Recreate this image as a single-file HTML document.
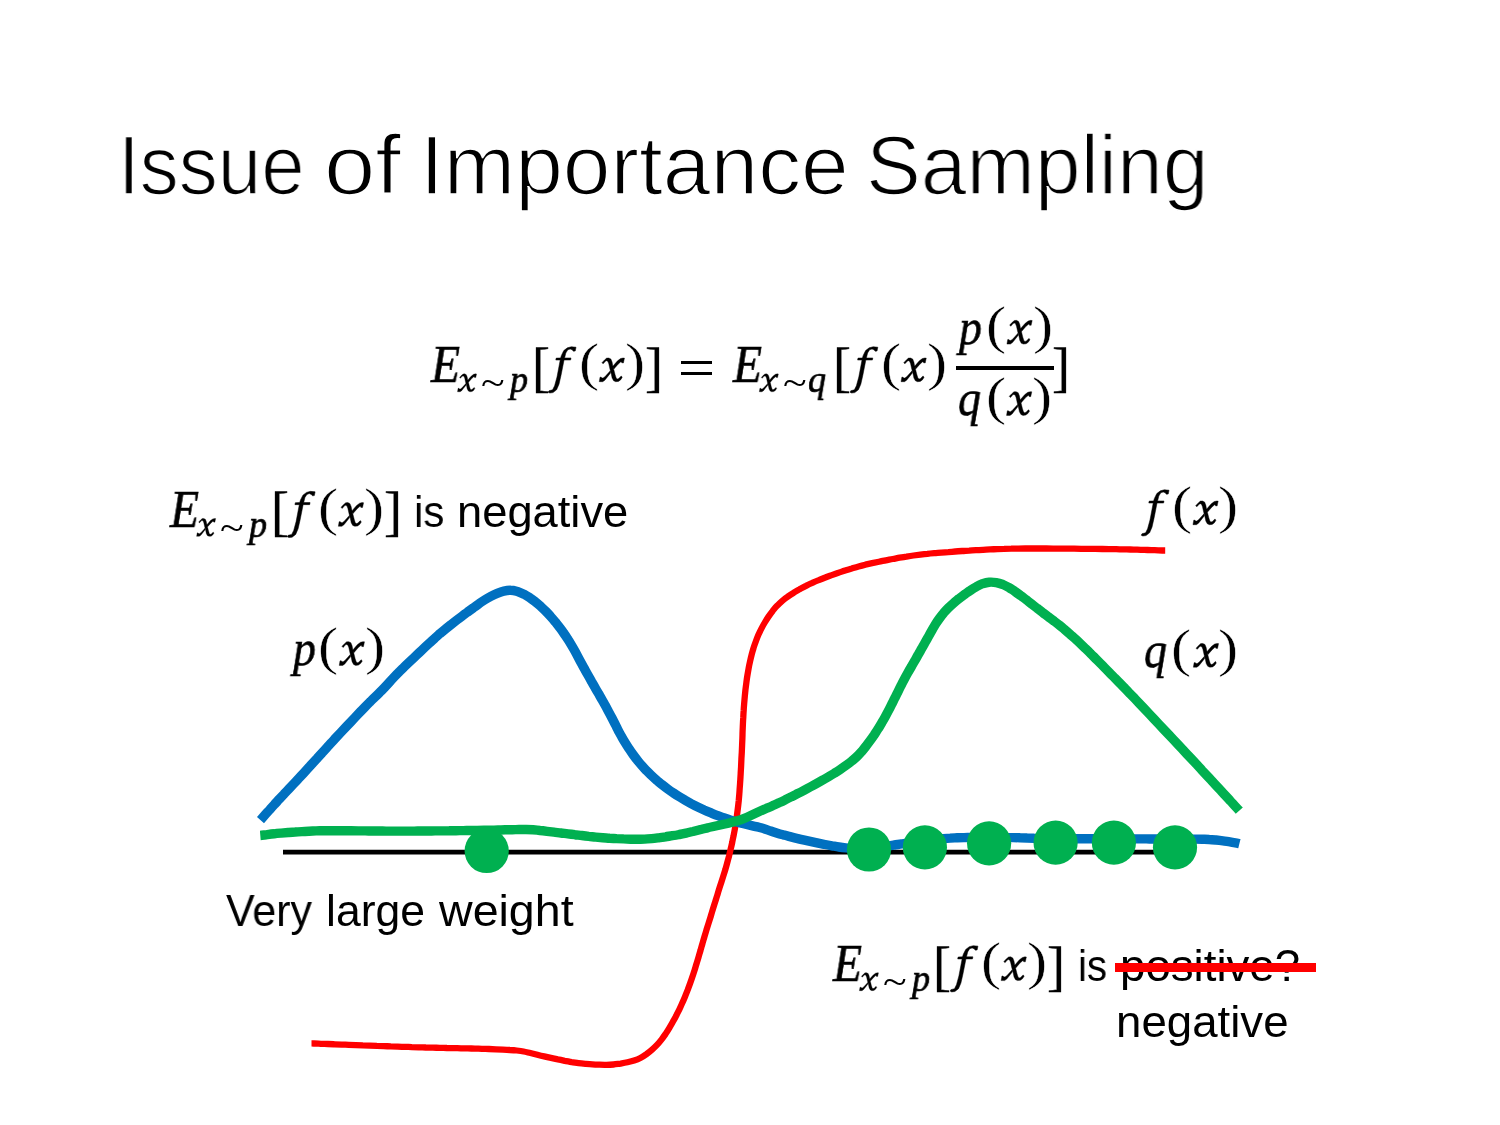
<!DOCTYPE html>
<html><head><meta charset="utf-8"><title>Issue of Importance Sampling</title>
<style>
html,body{margin:0;padding:0;background:#fff;}
#slide{position:relative;width:1500px;height:1125px;overflow:hidden;background:#fff;color:#000;font-family:"Liberation Sans",sans-serif;}
.g{position:absolute;line-height:1;white-space:pre;transform-origin:0 0;will-change:transform;font-family:"Liberation Serif",serif;}
.t{position:absolute;line-height:1;white-space:pre;font-family:"Liberation Sans",sans-serif;transform-origin:0 0;will-change:transform;}
.hr{position:absolute;background:#000;}
.E{font-size:52.5px;font-style:italic;transform:scaleX(0.905);-webkit-text-stroke:0.6px #000;}
.li{font-size:51px;font-style:italic;transform:scaleX(0.9);-webkit-text-stroke:0.6px #000;}
.pa{font-size:52px;transform:scaleX(1.16);-webkit-text-stroke:0.4px #fff;}
.br{font-size:54px;transform:scaleX(1.0);-webkit-text-stroke:0.3px #000;}
.sp{font-size:38px;font-style:italic;transform:scaleX(0.95);-webkit-text-stroke:0.7px #000;}
.st{font-size:38px;transform:scaleX(1.15);-webkit-text-stroke:0.0px #000;}
</style></head><body>
<div id="slide">
<svg width="1500" height="1125" viewBox="0 0 1500 1125" style="position:absolute;left:0;top:0" fill="none">
<defs><path id="fg" d="M27.84,-34.76 L23.20,-35.24 L19.20,-34.20 L15.60,-31.40 L13.20,-26.60 L12.40,-24.04 L8.00,-23.88 L7.60,-21.96 L12.00,-21.96 L8.80,-5.00 L6.40,3.80 L4.40,7.80 L0.80,8.76 L0.00,10.20 L1.60,11.00 L4.80,10.60 L8.40,7.80 L10.80,2.20 L12.80,-6.60 L15.84,-21.96 L22.40,-21.96 L22.80,-24.04 L16.40,-24.04 L17.60,-29.00 L19.60,-32.20 L22.00,-33.00 L24.00,-32.20 L25.20,-30.76 L27.04,-31.00Z" fill="#000" stroke="#000" stroke-width="0.5" stroke-linejoin="round"/><path id="xg" d="M2.87,-19.35 L5.44,-22.07 L7.56,-23.88 L9.67,-24.03 L11.79,-22.97 L13.00,-19.95 L13.75,-16.02 L14.81,-12.09 L16.02,-7.26 L17.08,-3.93 L18.14,-3.02 L19.65,-3.48 L21.77,-5.74 L22.37,-5.89 L23.13,-4.53 L21.46,-2.12 L19.35,-0.60 L16.63,-0.30 L14.51,-1.21 L13.00,-3.93 L11.94,-9.07 L10.88,-12.70 L9.67,-18.14 L8.77,-20.56 L7.56,-21.31 L6.35,-20.86 L4.84,-19.04 L3.93,-18.14Z M13.75,-15.72 L16.02,-18.44 L18.44,-21.16 L21.46,-23.43 L23.88,-24.03 L25.39,-23.88 L24.33,-19.04 L22.67,-19.20 L22.37,-20.10 L21.77,-20.25 L19.04,-17.84 L14.81,-13.00Z M11.19,-11.19 L8.46,-8.16 L5.74,-5.14 L3.93,-3.93 L2.87,-4.08 L1.96,-4.99 L0.91,-4.84 L0.15,-0.30 L3.63,-0.30 L5.74,-1.81 L8.16,-4.84 L11.49,-9.07Z" fill="#000" stroke="#000" stroke-width="0.4" stroke-linejoin="round"/></defs>
<line x1="283" y1="852.2" x2="1180" y2="852.2" stroke="#000" stroke-width="4.8"/>
<path d="M1165.2,550.5 C1164.0,550.5 1160.5,550.4 1158.2,550.3 C1155.9,550.2 1153.5,550.2 1151.2,550.1 C1148.9,550.0 1146.5,550.0 1144.2,549.9 C1141.9,549.8 1139.5,549.8 1137.2,549.7 C1134.9,549.6 1132.5,549.6 1130.2,549.5 C1127.9,549.5 1125.5,549.4 1123.2,549.4 C1120.9,549.3 1118.5,549.3 1116.2,549.2 C1113.9,549.2 1111.5,549.2 1109.2,549.1 C1106.9,549.1 1104.5,549.1 1102.2,549.0 C1099.9,549.0 1097.6,549.0 1095.2,548.9 C1092.9,548.9 1090.6,548.9 1088.2,548.9 C1085.9,548.9 1083.6,548.8 1081.2,548.8 C1078.9,548.8 1076.5,548.8 1074.2,548.7 C1071.9,548.7 1069.5,548.7 1067.2,548.7 C1064.9,548.7 1062.5,548.6 1060.2,548.6 C1057.9,548.6 1055.5,548.6 1053.2,548.6 C1050.9,548.6 1048.5,548.6 1046.2,548.5 C1043.9,548.5 1041.5,548.5 1039.2,548.5 C1036.9,548.5 1034.5,548.5 1032.2,548.5 C1029.9,548.5 1027.6,548.5 1025.2,548.5 C1022.9,548.5 1020.6,548.5 1018.2,548.6 C1015.9,548.6 1013.6,548.6 1011.2,548.7 C1008.9,548.7 1006.5,548.8 1004.2,548.9 C1001.9,548.9 999.5,549.0 997.2,549.1 C994.9,549.2 992.5,549.3 990.2,549.4 C987.9,549.5 985.5,549.6 983.2,549.8 C980.9,549.9 978.5,550.0 976.2,550.2 C973.9,550.3 971.5,550.4 969.2,550.6 C966.9,550.7 964.5,550.9 962.2,551.0 C959.9,551.2 957.6,551.4 955.2,551.5 C952.9,551.7 950.6,551.9 948.3,552.1 C945.9,552.2 943.6,552.4 941.3,552.6 C939.0,552.8 936.7,552.9 934.3,553.1 C932.0,553.3 929.7,553.5 927.4,553.8 C925.1,554.0 922.7,554.3 920.4,554.6 C918.1,554.9 915.8,555.2 913.5,555.5 C911.2,555.8 908.8,556.2 906.5,556.6 C904.2,556.9 901.9,557.3 899.6,557.7 C897.3,558.1 895.0,558.6 892.7,559.0 C890.4,559.4 888.1,559.9 885.8,560.3 C883.5,560.8 881.2,561.2 879.0,561.7 C876.7,562.2 874.4,562.7 872.1,563.2 C869.9,563.7 867.6,564.2 865.3,564.7 C863.1,565.3 860.8,565.9 858.6,566.5 C856.3,567.1 854.1,567.8 851.8,568.5 C849.6,569.1 847.3,569.8 845.1,570.5 C842.9,571.3 840.7,572.0 838.4,572.8 C836.2,573.5 834.0,574.3 831.8,575.1 C829.6,575.9 827.5,576.6 825.3,577.5 C823.1,578.3 820.9,579.2 818.8,580.1 C816.6,580.9 814.4,581.9 812.3,582.9 C810.2,583.8 808.1,584.8 806.0,585.9 C803.9,586.9 801.9,588.0 799.8,589.1 C797.8,590.3 795.7,591.4 793.8,592.7 C791.8,593.9 789.7,595.2 787.8,596.6 C785.9,597.9 784.1,599.3 782.3,600.8 C780.6,602.3 778.9,603.9 777.3,605.6 C775.7,607.2 774.2,609.1 772.7,610.9 C771.2,612.7 769.8,614.7 768.5,616.6 C767.2,618.5 766.0,620.5 764.8,622.5 C763.6,624.5 762.5,626.5 761.4,628.6 C760.3,630.7 759.3,632.8 758.3,635.0 C757.4,637.1 756.6,639.3 755.8,641.5 C755.0,643.6 754.2,645.8 753.5,648.1 C752.9,650.3 752.2,652.6 751.6,654.8 C751.0,657.1 750.5,659.4 750.0,661.7 C749.5,663.9 749.0,666.2 748.6,668.5 C748.2,670.8 747.8,673.1 747.4,675.4 C747.0,677.7 746.7,680.0 746.4,682.3 C746.1,684.7 745.8,687.0 745.5,689.3 C745.3,691.6 745.0,693.9 744.8,696.3 C744.6,698.6 744.4,700.9 744.2,703.2 C744.0,705.6 743.8,707.9 743.7,710.2 C743.5,712.5 743.4,714.9 743.3,717.2 C743.1,719.5 743.0,721.9 742.9,724.2 C742.8,726.5 742.7,728.9 742.6,731.2 C742.5,733.5 742.5,735.9 742.4,738.2 C742.3,740.5 742.2,742.8 742.1,745.2 C742.0,747.5 741.9,749.8 741.8,752.2 C741.7,754.5 741.5,756.8 741.4,759.2 C741.3,761.5 741.2,763.8 741.1,766.2 C741.0,768.5 740.8,770.8 740.7,773.1 C740.6,775.5 740.4,777.8 740.3,780.1 C740.1,782.5 740.0,784.8 739.8,787.1 C739.6,789.4 739.5,791.8 739.3,794.1 C739.1,796.4 738.9,798.7 738.7,801.1 C738.4,803.4 738.2,805.7 737.9,808.0 C737.6,810.3 737.3,812.7 737.0,815.0 C736.7,817.3 736.4,819.6 736.0,821.9 C735.6,824.2 735.3,826.5 734.9,828.8 C734.5,831.1 734.0,833.4 733.6,835.7 C733.1,838.0 732.6,840.3 732.2,842.5 C731.7,844.8 731.2,847.1 730.6,849.4 C730.1,851.6 729.5,853.9 729.0,856.2 C728.4,858.4 727.8,860.7 727.2,862.9 C726.6,865.2 725.9,867.4 725.3,869.7 C724.6,871.9 723.9,874.1 723.2,876.4 C722.5,878.6 721.8,880.8 721.1,883.0 C720.3,885.3 719.6,887.5 718.9,889.7 C718.2,891.9 717.6,894.2 716.9,896.4 C716.2,898.6 715.5,900.9 714.8,903.1 C714.1,905.3 713.4,907.5 712.7,909.8 C712.0,912.0 711.4,914.2 710.7,916.5 C710.0,918.7 709.3,920.9 708.6,923.1 C707.9,925.4 707.2,927.6 706.5,929.8 C705.9,932.1 705.2,934.3 704.5,936.5 C703.8,938.8 703.2,941.0 702.5,943.3 C701.9,945.5 701.2,947.8 700.6,950.0 C699.9,952.3 699.3,954.5 698.6,956.8 C698.0,959.0 697.3,961.2 696.6,963.5 C695.9,965.7 695.3,967.9 694.6,970.2 C693.9,972.4 693.1,974.6 692.4,976.8 C691.7,979.0 690.9,981.2 690.1,983.4 C689.3,985.6 688.5,987.8 687.7,989.9 C686.8,992.1 686.0,994.3 685.1,996.4 C684.2,998.6 683.3,1000.8 682.3,1002.9 C681.4,1005.1 680.4,1007.2 679.4,1009.3 C678.4,1011.4 677.3,1013.5 676.3,1015.6 C675.2,1017.6 674.1,1019.7 672.9,1021.7 C671.8,1023.7 670.6,1025.8 669.4,1027.8 C668.2,1029.8 666.9,1031.9 665.6,1033.9 C664.3,1035.8 662.9,1037.8 661.5,1039.6 C660.0,1041.5 658.6,1043.2 657.0,1044.9 C655.4,1046.6 653.8,1048.1 652.1,1049.6 C650.3,1051.2 648.4,1052.7 646.5,1054.1 C644.5,1055.5 642.5,1056.9 640.4,1058.0 C638.3,1059.1 636.2,1059.9 634.1,1060.6 C631.9,1061.3 629.7,1061.8 627.5,1062.3 C625.2,1062.8 622.9,1063.2 620.6,1063.6 C618.2,1063.9 615.8,1064.3 613.5,1064.5 C611.1,1064.7 608.8,1064.8 606.4,1064.8 C604.1,1064.9 601.8,1064.8 599.4,1064.7 C597.1,1064.6 594.8,1064.5 592.4,1064.3 C590.1,1064.2 587.8,1064.0 585.4,1063.8 C583.1,1063.6 580.8,1063.4 578.5,1063.1 C576.2,1062.8 573.9,1062.4 571.6,1062.1 C569.3,1061.7 567.0,1061.2 564.7,1060.8 C562.4,1060.3 560.1,1059.8 557.8,1059.4 C555.5,1058.9 553.2,1058.4 550.9,1057.9 C548.7,1057.5 546.4,1057.0 544.1,1056.4 C541.8,1055.9 539.5,1055.3 537.3,1054.7 C535.0,1054.1 532.7,1053.5 530.4,1053.0 C528.1,1052.5 525.9,1051.9 523.6,1051.5 C521.3,1051.1 519.0,1050.8 516.7,1050.5 C514.4,1050.2 512.1,1050.1 509.8,1050.0 C507.5,1049.8 505.2,1049.7 502.9,1049.6 C500.5,1049.5 498.2,1049.4 495.9,1049.3 C493.6,1049.2 491.3,1049.1 488.9,1049.0 C486.6,1048.9 484.3,1048.9 481.9,1048.8 C479.6,1048.7 477.3,1048.7 474.9,1048.6 C472.6,1048.5 470.3,1048.5 467.9,1048.4 C465.6,1048.4 463.3,1048.3 460.9,1048.3 C458.6,1048.2 456.2,1048.2 453.9,1048.1 C451.6,1048.1 449.2,1048.0 446.9,1048.0 C444.5,1047.9 442.2,1047.9 439.8,1047.8 C437.5,1047.8 435.2,1047.7 432.8,1047.7 C430.5,1047.6 428.1,1047.5 425.8,1047.5 C423.5,1047.4 421.1,1047.4 418.8,1047.3 C416.5,1047.2 414.1,1047.1 411.8,1047.1 C409.5,1047.0 407.1,1046.9 404.8,1046.8 C402.5,1046.8 400.1,1046.7 397.8,1046.6 C395.5,1046.5 393.1,1046.4 390.8,1046.4 C388.5,1046.3 386.1,1046.2 383.8,1046.1 C381.5,1046.0 379.2,1045.9 376.8,1045.9 C374.5,1045.8 372.2,1045.7 369.8,1045.6 C367.5,1045.5 365.2,1045.4 362.8,1045.4 C360.5,1045.3 358.2,1045.2 355.8,1045.1 C353.5,1045.0 351.2,1044.9 348.8,1044.8 C346.5,1044.7 344.2,1044.7 341.8,1044.6 C339.5,1044.5 337.2,1044.4 334.8,1044.3 C332.5,1044.2 330.2,1044.1 327.9,1044.0 C325.5,1043.9 323.2,1043.9 320.9,1043.8 C318.5,1043.7 315.4,1043.6 313.9,1043.5 C312.3,1043.4 311.9,1043.4 311.5,1043.4" stroke="#FF0000" stroke-width="6.3"/>
<path d="M260.5,820.1 C261.3,819.2 263.6,816.6 265.1,814.8 C266.7,813.1 268.2,811.3 269.8,809.6 C271.3,807.9 272.9,806.1 274.5,804.4 C276.0,802.7 277.6,801.0 279.2,799.2 C280.8,797.5 282.4,795.8 284.0,794.1 C285.6,792.4 287.2,790.7 288.8,789.0 C290.4,787.3 292.0,785.6 293.6,783.9 C295.2,782.2 296.8,780.5 298.3,778.8 C299.9,777.1 301.5,775.4 303.1,773.7 C304.7,772.0 306.3,770.3 307.8,768.5 C309.4,766.8 311.0,765.1 312.5,763.4 C314.1,761.6 315.7,759.9 317.3,758.2 C318.8,756.5 320.4,754.7 322.0,753.0 C323.5,751.3 325.1,749.6 326.7,747.8 C328.2,746.1 329.8,744.4 331.4,742.6 C333.0,740.9 334.5,739.2 336.1,737.5 C337.7,735.8 339.3,734.1 340.9,732.4 C342.5,730.7 344.1,729.0 345.7,727.3 C347.3,725.6 348.9,723.9 350.5,722.2 C352.1,720.5 353.7,718.8 355.3,717.1 C356.9,715.4 358.5,713.7 360.1,712.0 C361.8,710.4 363.4,708.7 365.0,707.0 C366.6,705.3 368.3,703.6 369.9,702.0 C371.6,700.4 373.2,698.7 374.9,697.1 C376.6,695.5 378.3,693.9 379.9,692.2 C381.6,690.6 383.2,688.9 384.8,687.2 C386.4,685.5 388.0,683.8 389.5,682.1 C391.1,680.3 392.7,678.6 394.3,676.9 C395.9,675.2 397.5,673.5 399.2,671.9 C400.8,670.2 402.5,668.6 404.1,667.0 C405.8,665.3 407.5,663.7 409.2,662.1 C410.9,660.5 412.6,658.9 414.3,657.3 C416.0,655.7 417.7,654.1 419.4,652.5 C421.1,650.9 422.8,649.3 424.5,647.7 C426.2,646.1 427.9,644.5 429.6,642.9 C431.3,641.4 433.0,639.8 434.8,638.2 C436.5,636.6 438.3,635.1 440.0,633.6 C441.8,632.1 443.6,630.6 445.4,629.1 C447.2,627.6 449.0,626.2 450.9,624.7 C452.7,623.3 454.5,621.9 456.4,620.4 C458.2,619.0 460.1,617.6 462.0,616.2 C463.9,614.8 465.7,613.4 467.6,612.0 C469.5,610.7 471.4,609.3 473.3,607.9 C475.1,606.5 477.0,605.1 478.9,603.8 C480.8,602.4 482.8,601.1 484.7,599.9 C486.7,598.6 488.7,597.5 490.8,596.4 C492.9,595.3 495.0,594.3 497.2,593.4 C499.3,592.5 501.5,591.6 503.8,591.1 C506.0,590.6 508.3,590.2 510.6,590.3 C512.9,590.3 515.2,590.9 517.5,591.5 C519.7,592.2 521.8,593.2 523.9,594.2 C526.0,595.3 527.9,596.5 529.9,597.8 C531.8,599.1 533.7,600.6 535.5,602.0 C537.4,603.5 539.1,605.0 540.9,606.6 C542.6,608.2 544.3,609.8 545.9,611.4 C547.6,613.1 549.2,614.8 550.7,616.6 C552.3,618.3 553.8,620.1 555.3,621.9 C556.7,623.7 558.2,625.5 559.6,627.4 C561.0,629.2 562.4,631.1 563.7,633.1 C565.1,635.0 566.4,636.9 567.6,638.9 C568.9,640.8 570.1,642.8 571.3,644.8 C572.5,646.8 573.7,648.8 574.8,650.9 C575.9,652.9 577.0,655.0 578.1,657.1 C579.2,659.1 580.3,661.2 581.4,663.2 C582.5,665.3 583.6,667.3 584.8,669.4 C585.9,671.4 587.0,673.4 588.2,675.5 C589.3,677.5 590.5,679.6 591.6,681.6 C592.8,683.6 593.9,685.7 595.1,687.7 C596.2,689.7 597.4,691.7 598.6,693.7 C599.8,695.8 600.9,697.8 602.1,699.8 C603.3,701.8 604.4,703.8 605.5,705.9 C606.7,707.9 607.7,710.0 608.8,712.1 C609.9,714.1 611.0,716.2 612.1,718.3 C613.1,720.3 614.2,722.4 615.3,724.5 C616.3,726.6 617.4,728.7 618.4,730.8 C619.5,732.8 620.6,734.9 621.8,736.9 C622.9,738.9 624.1,740.9 625.3,742.9 C626.5,744.9 627.8,746.9 629.1,748.8 C630.4,750.8 631.7,752.7 633.1,754.6 C634.5,756.5 635.9,758.4 637.3,760.2 C638.8,762.0 640.2,763.8 641.8,765.5 C643.3,767.3 644.9,769.0 646.5,770.7 C648.2,772.3 649.9,774.0 651.6,775.6 C653.3,777.2 655.0,778.8 656.8,780.3 C658.6,781.8 660.3,783.3 662.2,784.8 C664.0,786.2 665.8,787.6 667.7,789.0 C669.6,790.4 671.5,791.7 673.5,793.0 C675.4,794.3 677.4,795.6 679.4,796.8 C681.4,798.0 683.4,799.2 685.4,800.4 C687.4,801.5 689.5,802.7 691.5,803.8 C693.6,804.9 695.7,806.0 697.8,807.0 C699.9,808.0 702.0,809.0 704.1,810.0 C706.2,810.9 708.4,811.8 710.5,812.7 C712.7,813.6 714.8,814.5 717.0,815.3 C719.2,816.1 721.4,817.0 723.6,817.7 C725.8,818.5 728.0,819.3 730.2,820.0 C732.5,820.7 734.7,821.4 736.9,822.0 C739.2,822.6 741.4,823.2 743.7,823.8 C746.0,824.3 748.3,824.8 750.5,825.3 C752.8,825.8 755.1,826.3 757.4,826.9 C759.6,827.5 761.9,828.2 764.1,828.8 C766.3,829.5 768.5,830.3 770.7,831.0 C773.0,831.8 775.2,832.5 777.4,833.2 C779.6,833.9 781.9,834.5 784.1,835.1 C786.4,835.8 788.6,836.3 790.9,836.9 C793.1,837.5 795.4,838.1 797.7,838.6 C800.0,839.2 802.2,839.7 804.5,840.2 C806.8,840.7 809.0,841.2 811.3,841.7 C813.6,842.2 815.9,842.7 818.2,843.2 C820.5,843.7 822.8,844.1 825.0,844.5 C827.3,845.0 829.6,845.4 831.9,845.8 C834.2,846.2 836.5,846.7 838.8,847.0 C841.2,847.4 843.5,847.7 845.8,847.9 C848.1,848.1 850.4,848.1 852.8,848.1 C855.1,848.2 857.4,848.2 859.8,848.2 C862.1,848.2 864.4,848.2 866.8,848.2 C869.1,848.2 871.4,848.2 873.7,848.0 C876.1,847.9 878.4,847.6 880.7,847.3 C883.0,847.0 885.3,846.6 887.6,846.2 C889.9,845.8 892.2,845.4 894.5,845.0 C896.9,844.6 899.2,844.3 901.5,843.9 C903.8,843.6 906.1,843.3 908.4,843.0 C910.7,842.7 913.1,842.4 915.4,842.1 C917.7,841.7 920.0,841.4 922.3,841.1 C924.6,840.8 927.0,840.4 929.3,840.2 C931.6,839.9 933.9,839.6 936.2,839.3 C938.5,839.0 940.9,838.8 943.2,838.6 C945.5,838.4 947.8,838.2 950.2,838.1 C952.5,837.9 954.8,837.9 957.1,837.8 C959.5,837.7 961.8,837.6 964.1,837.6 C966.5,837.5 968.8,837.5 971.1,837.4 C973.5,837.4 975.8,837.3 978.1,837.3 C980.5,837.3 982.8,837.2 985.1,837.2 C987.5,837.2 989.8,837.2 992.1,837.2 C994.5,837.2 996.8,837.2 999.1,837.3 C1001.5,837.3 1003.8,837.3 1006.1,837.4 C1008.5,837.4 1010.8,837.5 1013.1,837.6 C1015.5,837.6 1017.8,837.7 1020.1,837.8 C1022.5,837.8 1024.8,837.9 1027.1,838.0 C1029.5,838.0 1031.8,838.1 1034.1,838.2 C1036.5,838.2 1038.8,838.3 1041.1,838.4 C1043.5,838.4 1045.8,838.5 1048.1,838.5 C1050.5,838.5 1052.8,838.6 1055.1,838.6 C1057.4,838.6 1059.8,838.6 1062.1,838.7 C1064.4,838.7 1066.8,838.7 1069.1,838.7 C1071.4,838.7 1073.8,838.7 1076.1,838.7 C1078.4,838.8 1080.8,838.8 1083.1,838.8 C1085.4,838.8 1087.8,838.8 1090.1,838.8 C1092.4,838.8 1094.8,838.8 1097.1,838.8 C1099.4,838.8 1101.8,838.9 1104.1,838.9 C1106.4,838.9 1108.8,838.9 1111.1,838.9 C1113.4,838.9 1115.8,838.9 1118.1,838.9 C1120.4,838.9 1122.8,838.9 1125.1,838.9 C1127.4,838.9 1129.8,838.9 1132.1,838.9 C1134.4,838.9 1136.8,838.9 1139.1,838.9 C1141.4,838.9 1143.8,838.9 1146.1,838.9 C1148.4,838.9 1150.8,839.0 1153.1,839.0 C1155.4,839.0 1157.8,839.0 1160.1,839.0 C1162.4,839.0 1164.8,839.0 1167.1,839.0 C1169.4,839.0 1171.8,839.0 1174.1,839.0 C1176.5,839.0 1178.8,839.0 1181.1,839.0 C1183.5,839.0 1185.8,839.0 1188.1,839.1 C1190.5,839.1 1192.8,839.1 1195.1,839.1 C1197.5,839.1 1199.8,839.1 1202.1,839.2 C1204.4,839.3 1206.8,839.3 1209.1,839.5 C1211.4,839.6 1213.7,839.8 1216.1,840.0 C1218.4,840.3 1220.7,840.6 1223.0,840.9 C1225.3,841.2 1227.7,841.6 1229.9,841.9 C1232.2,842.3 1235.2,842.8 1236.8,843.1 C1238.4,843.4 1239.0,843.5 1239.4,843.6" stroke="#0070C0" stroke-width="9.4"/>
<path d="M260.3,835.5 C261.5,835.4 264.9,834.9 267.3,834.6 C269.6,834.3 271.9,834.0 274.2,833.8 C276.5,833.5 278.9,833.3 281.2,833.1 C283.5,832.9 285.8,832.7 288.1,832.5 C290.5,832.3 292.8,832.1 295.1,832.0 C297.4,831.8 299.8,831.7 302.1,831.6 C304.4,831.4 306.8,831.3 309.1,831.2 C311.4,831.1 313.8,831.0 316.1,830.9 C318.4,830.8 320.8,830.8 323.1,830.7 C325.4,830.7 327.8,830.7 330.1,830.7 C332.4,830.7 334.8,830.7 337.1,830.7 C339.4,830.7 341.8,830.8 344.1,830.8 C346.4,830.8 348.8,830.8 351.1,830.8 C353.4,830.8 355.8,830.8 358.1,830.9 C360.4,830.9 362.8,830.9 365.1,830.9 C367.4,830.9 369.8,831.0 372.1,831.0 C374.4,831.0 376.8,831.0 379.1,831.0 C381.4,831.0 383.8,831.1 386.1,831.1 C388.4,831.1 390.8,831.1 393.1,831.1 C395.4,831.1 397.8,831.1 400.1,831.1 C402.4,831.1 404.8,831.1 407.1,831.1 C409.4,831.1 411.8,831.1 414.1,831.1 C416.4,831.1 418.8,831.0 421.1,831.0 C423.4,831.0 425.8,831.0 428.1,831.0 C430.4,831.0 432.8,830.9 435.1,830.9 C437.4,830.9 439.8,830.9 442.1,830.9 C444.4,830.8 446.8,830.8 449.1,830.8 C451.4,830.7 453.8,830.7 456.1,830.7 C458.4,830.7 460.8,830.6 463.1,830.6 C465.4,830.6 467.8,830.5 470.1,830.5 C472.4,830.5 474.8,830.5 477.1,830.4 C479.4,830.4 481.8,830.4 484.1,830.3 C486.4,830.3 488.8,830.3 491.1,830.2 C493.4,830.2 495.8,830.1 498.1,830.0 C500.4,830.0 502.8,829.9 505.1,829.8 C507.4,829.8 509.8,829.7 512.1,829.7 C514.4,829.6 516.8,829.6 519.1,829.5 C521.4,829.5 523.8,829.5 526.1,829.5 C528.4,829.6 530.7,829.7 533.1,829.8 C535.4,830.0 537.7,830.2 540.0,830.5 C542.3,830.7 544.7,831.0 547.0,831.3 C549.3,831.6 551.6,831.9 554.0,832.2 C556.3,832.5 558.6,832.7 560.9,833.0 C563.2,833.3 565.6,833.5 567.9,833.8 C570.2,834.1 572.5,834.4 574.8,834.7 C577.1,834.9 579.5,835.3 581.8,835.5 C584.1,835.8 586.4,836.1 588.7,836.4 C591.0,836.6 593.4,836.9 595.7,837.1 C598.0,837.3 600.3,837.5 602.7,837.7 C605.0,837.9 607.3,838.0 609.6,838.2 C612.0,838.3 614.3,838.4 616.6,838.6 C619.0,838.7 621.3,838.8 623.6,838.9 C626.0,839.0 628.3,839.1 630.6,839.2 C633.0,839.2 635.3,839.3 637.6,839.3 C639.9,839.3 642.3,839.2 644.6,839.1 C646.9,839.0 649.3,838.8 651.6,838.6 C653.9,838.4 656.2,838.1 658.6,837.8 C660.9,837.5 663.2,837.1 665.5,836.8 C667.8,836.4 670.1,836.1 672.4,835.7 C674.7,835.4 677.0,835.0 679.3,834.5 C681.6,834.1 683.9,833.6 686.1,833.1 C688.4,832.6 690.7,832.0 693.0,831.5 C695.2,830.9 697.5,830.3 699.8,829.7 C702.0,829.2 704.3,828.6 706.6,828.1 C708.8,827.5 711.1,827.0 713.4,826.5 C715.7,826.0 718.0,825.5 720.3,825.0 C722.6,824.5 724.9,824.0 727.1,823.5 C729.4,822.9 731.7,822.4 733.9,821.8 C736.1,821.1 738.4,820.5 740.6,819.8 C742.7,819.0 744.9,818.1 747.0,817.2 C749.2,816.3 751.3,815.3 753.4,814.3 C755.5,813.3 757.7,812.3 759.8,811.3 C761.9,810.4 764.1,809.4 766.2,808.5 C768.3,807.6 770.5,806.7 772.6,805.7 C774.8,804.8 776.9,803.8 779.0,802.8 C781.1,801.9 783.2,800.9 785.3,799.8 C787.4,798.8 789.5,797.8 791.6,796.7 C793.7,795.7 795.7,794.6 797.8,793.5 C799.9,792.5 802.0,791.4 804.0,790.3 C806.1,789.2 808.2,788.1 810.2,787.0 C812.3,785.9 814.3,784.8 816.4,783.6 C818.4,782.5 820.4,781.4 822.5,780.2 C824.5,779.0 826.5,777.9 828.5,776.7 C830.5,775.5 832.6,774.3 834.5,773.1 C836.5,771.9 838.5,770.6 840.4,769.3 C842.3,768.0 844.3,766.7 846.2,765.3 C848.1,763.9 850.0,762.5 851.8,761.0 C853.6,759.6 855.3,758.1 857.0,756.5 C858.7,754.9 860.3,753.1 861.8,751.4 C863.3,749.6 864.8,747.8 866.2,745.9 C867.6,744.1 869.0,742.2 870.4,740.3 C871.8,738.4 873.1,736.5 874.4,734.6 C875.7,732.6 877.0,730.7 878.2,728.7 C879.4,726.7 880.7,724.7 881.8,722.7 C883.0,720.7 884.2,718.7 885.3,716.6 C886.4,714.6 887.5,712.5 888.6,710.4 C889.7,708.4 890.7,706.3 891.7,704.2 C892.8,702.1 893.8,700.0 894.9,697.9 C895.9,695.8 896.9,693.7 898.0,691.7 C899.0,689.6 900.0,687.5 901.1,685.4 C902.1,683.3 903.2,681.2 904.3,679.2 C905.4,677.1 906.5,675.1 907.7,673.0 C908.8,671.0 910.0,669.0 911.2,667.0 C912.3,664.9 913.5,662.9 914.7,660.9 C915.8,658.9 917.0,656.9 918.1,654.8 C919.3,652.8 920.4,650.8 921.6,648.7 C922.7,646.7 923.9,644.7 925.0,642.6 C926.2,640.6 927.3,638.6 928.5,636.5 C929.6,634.5 930.7,632.5 931.9,630.4 C933.0,628.4 934.2,626.4 935.4,624.4 C936.6,622.4 937.9,620.5 939.3,618.6 C940.7,616.7 942.1,614.8 943.6,613.1 C945.1,611.3 946.7,609.6 948.4,607.9 C950.0,606.3 951.8,604.7 953.5,603.2 C955.3,601.6 957.1,600.2 958.9,598.7 C960.8,597.3 962.7,595.9 964.5,594.5 C966.4,593.2 968.3,591.8 970.3,590.5 C972.2,589.2 974.1,587.9 976.2,586.8 C978.2,585.6 980.3,584.5 982.5,583.7 C984.7,583.0 987.0,582.4 989.2,582.2 C991.5,582.0 993.9,582.2 996.2,582.6 C998.5,583.0 1000.7,583.7 1002.9,584.5 C1005.0,585.4 1007.1,586.5 1009.1,587.6 C1011.1,588.8 1013.0,590.2 1015.0,591.5 C1016.9,592.8 1018.8,594.2 1020.7,595.6 C1022.6,596.9 1024.4,598.4 1026.3,599.8 C1028.1,601.2 1029.9,602.7 1031.8,604.1 C1033.6,605.6 1035.5,607.0 1037.3,608.4 C1039.2,609.8 1041.0,611.3 1042.9,612.7 C1044.7,614.1 1046.6,615.5 1048.4,616.9 C1050.3,618.3 1052.2,619.7 1054.1,621.1 C1055.9,622.5 1057.8,623.9 1059.6,625.4 C1061.5,626.8 1063.2,628.3 1065.0,629.8 C1066.8,631.3 1068.5,632.8 1070.3,634.4 C1072.0,635.9 1073.7,637.5 1075.5,639.0 C1077.2,640.6 1078.9,642.2 1080.6,643.8 C1082.3,645.4 1083.9,647.0 1085.6,648.7 C1087.3,650.3 1089.0,651.9 1090.6,653.6 C1092.3,655.2 1093.9,656.9 1095.6,658.6 C1097.2,660.2 1098.9,661.9 1100.5,663.5 C1102.2,665.2 1103.8,666.9 1105.4,668.5 C1107.1,670.2 1108.7,671.9 1110.3,673.6 C1112.0,675.2 1113.6,676.9 1115.3,678.5 C1116.9,680.2 1118.5,681.9 1120.2,683.5 C1121.8,685.2 1123.4,686.9 1125.1,688.5 C1126.7,690.2 1128.3,691.9 1129.9,693.6 C1131.6,695.2 1133.2,696.9 1134.8,698.6 C1136.4,700.3 1138.0,702.0 1139.6,703.7 C1141.2,705.4 1142.8,707.1 1144.4,708.8 C1146.0,710.5 1147.6,712.2 1149.2,713.9 C1150.8,715.6 1152.4,717.3 1154.0,719.0 C1155.6,720.7 1157.2,722.4 1158.8,724.1 C1160.4,725.8 1162.0,727.5 1163.6,729.2 C1165.2,730.9 1166.8,732.6 1168.4,734.3 C1170.0,736.0 1171.6,737.7 1173.2,739.4 C1174.8,741.1 1176.4,742.8 1178.0,744.5 C1179.6,746.2 1181.2,747.9 1182.8,749.6 C1184.3,751.3 1185.9,753.0 1187.5,754.7 C1189.1,756.4 1190.7,758.1 1192.3,759.8 C1193.9,761.5 1195.5,763.2 1197.1,764.9 C1198.7,766.7 1200.3,768.4 1201.8,770.1 C1203.4,771.8 1205.0,773.5 1206.6,775.2 C1208.2,776.9 1209.8,778.6 1211.4,780.3 C1213.0,782.1 1214.5,783.8 1216.1,785.5 C1217.7,787.2 1219.3,788.9 1220.9,790.6 C1222.4,792.3 1224.0,794.1 1225.6,795.8 C1227.2,797.5 1228.8,799.2 1230.3,800.9 C1231.9,802.6 1233.6,804.5 1235.1,806.1 C1236.6,807.7 1238.6,809.9 1239.3,810.7" stroke="#00B050" stroke-width="9.4"/>
<circle cx="486.7" cy="851" r="22.1" fill="#00B050"/>
<circle cx="869.0" cy="849.5" r="22.1" fill="#00B050"/>
<circle cx="924.9" cy="847.3" r="22.1" fill="#00B050"/>
<circle cx="989.1" cy="843.3" r="22.1" fill="#00B050"/>
<circle cx="1055.6" cy="842.7" r="22.1" fill="#00B050"/>
<circle cx="1113.9" cy="842.7" r="22.1" fill="#00B050"/>
<circle cx="1175" cy="847.3" r="22.1" fill="#00B050"/>
<use href="#fg" x="548.2" y="382.0"/>
<use href="#fg" x="850.0" y="382.0"/>
<use href="#fg" x="287.3" y="526.6"/>
<use href="#fg" x="950.1" y="980.9"/>
<use href="#fg" x="1141.2" y="525.0"/>
<use href="#xg" transform="translate(457.4,392.0) scale(0.755)"/>
<use href="#xg" x="599.1" y="382.0"/>
<use href="#xg" transform="translate(759.2,392.0) scale(0.755)"/>
<use href="#xg" x="900.9" y="382.0"/>
<use href="#xg" x="1006.8" y="344.4"/>
<use href="#xg" x="1006.4" y="415.7"/>
<use href="#xg" transform="translate(196.5,536.6) scale(0.755)"/>
<use href="#xg" x="338.2" y="526.6"/>
<use href="#xg" transform="translate(859.3,990.9) scale(0.755)"/>
<use href="#xg" x="1001.0" y="980.9"/>
<use href="#xg" x="1192.8" y="525.0"/>
<use href="#xg" x="1193.2" y="667.5"/>
<use href="#xg" x="339.1" y="665.7"/>
</svg>
<span class="t" style="left:117.6px;top:122.7px;font-size:84px;transform:scaleX(0.9299);-webkit-text-stroke:1.7px #fff;">Issue</span>
<span class="t" style="left:324.3px;top:122.7px;font-size:84px;transform:scaleX(1.0985);-webkit-text-stroke:1.7px #fff;">of</span>
<span class="t" style="left:420.1px;top:122.7px;font-size:84px;transform:scaleX(1.0202);-webkit-text-stroke:1.7px #fff;">Importance</span>
<span class="t" style="left:866.3px;top:122.7px;font-size:84px;transform:scaleX(0.9779);-webkit-text-stroke:1.7px #fff;">Sampling</span>
<span class="t" style="left:414.4px;top:489.7px;font-size:43.7px;transform:scaleX(0.9593);">is</span>
<span class="t" style="left:457.4px;top:489.7px;font-size:43.7px;transform:scaleX(1.0369);">negative</span>
<span class="t" style="left:225.7px;top:888.7px;font-size:43.7px;transform:scaleX(0.9839);">Very</span>
<span class="t" style="left:326.0px;top:888.7px;font-size:43.7px;transform:scaleX(1.0185);">large</span>
<span class="t" style="left:439.3px;top:888.7px;font-size:43.7px;transform:scaleX(1.0659);">weight</span>
<span class="t" style="left:1078.1px;top:943.7px;font-size:43.7px;transform:scaleX(0.9185);">is</span>
<span class="t" style="left:1120.4px;top:943.7px;font-size:43.7px;transform:scaleX(1.0446);">positive?</span>
<span class="t" style="left:1115.7px;top:999.7px;font-size:43.7px;transform:scaleX(1.0444);">negative</span>
<div class="hr" style="left:681.2px;top:361px;width:30.8px;height:3px"></div>
<div class="hr" style="left:681.2px;top:372px;width:30.8px;height:3px"></div>
<div class="hr" style="left:956.3px;top:366.1px;width:97.8px;height:3.5px"></div>
<span class="g E" style="left:431.2px;top:338.3px">E</span>
<span class="g st" style="left:480.8px;top:363.1px">~</span>
<span class="g sp" style="left:509.9px;top:360.2px">p</span>
<span class="g br" style="left:531.5px;top:340.8px">[</span>
<span class="g pa" style="left:579.0px;top:337.2px">(</span>
<span class="g pa" style="left:625.2px;top:337.2px">)</span>
<span class="g br" style="left:644.8px;top:340.8px">]</span>
<span class="g E" style="left:733.0px;top:338.3px">E</span>
<span class="g st" style="left:782.6px;top:363.1px">~</span>
<span class="g sp" style="left:807.7px;top:360.2px">q</span>
<span class="g br" style="left:833.3px;top:340.8px">[</span>
<span class="g pa" style="left:880.8px;top:337.2px">(</span>
<span class="g pa" style="left:927.0px;top:337.2px">)</span>
<span class="g li" style="left:959.4px;top:301.7px">p</span>
<span class="g pa" style="left:985.8px;top:299.6px">(</span>
<span class="g pa" style="left:1032.6px;top:299.6px">)</span>
<span class="g li" style="left:957.8px;top:373.0px">q</span>
<span class="g pa" style="left:985.8px;top:370.9px">(</span>
<span class="g pa" style="left:1032.0px;top:370.9px">)</span>
<span class="g br" style="left:1051.8px;top:340.8px">]</span>
<span class="g E" style="left:170.3px;top:482.9px">E</span>
<span class="g st" style="left:219.9px;top:507.7px">~</span>
<span class="g sp" style="left:249.0px;top:504.8px">p</span>
<span class="g br" style="left:270.6px;top:485.4px">[</span>
<span class="g pa" style="left:318.1px;top:481.8px">(</span>
<span class="g pa" style="left:364.3px;top:481.8px">)</span>
<span class="g br" style="left:384.1px;top:485.4px">]</span>
<span class="g E" style="left:833.1px;top:937.2px">E</span>
<span class="g st" style="left:882.7px;top:962.0px">~</span>
<span class="g sp" style="left:911.8px;top:959.1px">p</span>
<span class="g br" style="left:933.4px;top:939.7px">[</span>
<span class="g pa" style="left:980.9px;top:936.1px">(</span>
<span class="g pa" style="left:1027.1px;top:936.1px">)</span>
<span class="g br" style="left:1046.5px;top:939.7px">]</span>
<span class="g pa" style="left:1171.6px;top:480.4px">(</span>
<span class="g pa" style="left:1218.2px;top:480.4px">)</span>
<span class="g li" style="left:1143.5px;top:624.8px">q</span>
<span class="g pa" style="left:1171.2px;top:622.8px">(</span>
<span class="g pa" style="left:1218.2px;top:622.8px">)</span>
<span class="g li" style="left:292.6px;top:623.0px">p</span>
<span class="g pa" style="left:318.3px;top:621.0px">(</span>
<span class="g pa" style="left:365.1px;top:621.0px">)</span>
<div class="hr" style="left:1115px;top:963.2px;width:200.7px;height:9.2px;background:#FF0000"></div>
</div>
</body></html>
